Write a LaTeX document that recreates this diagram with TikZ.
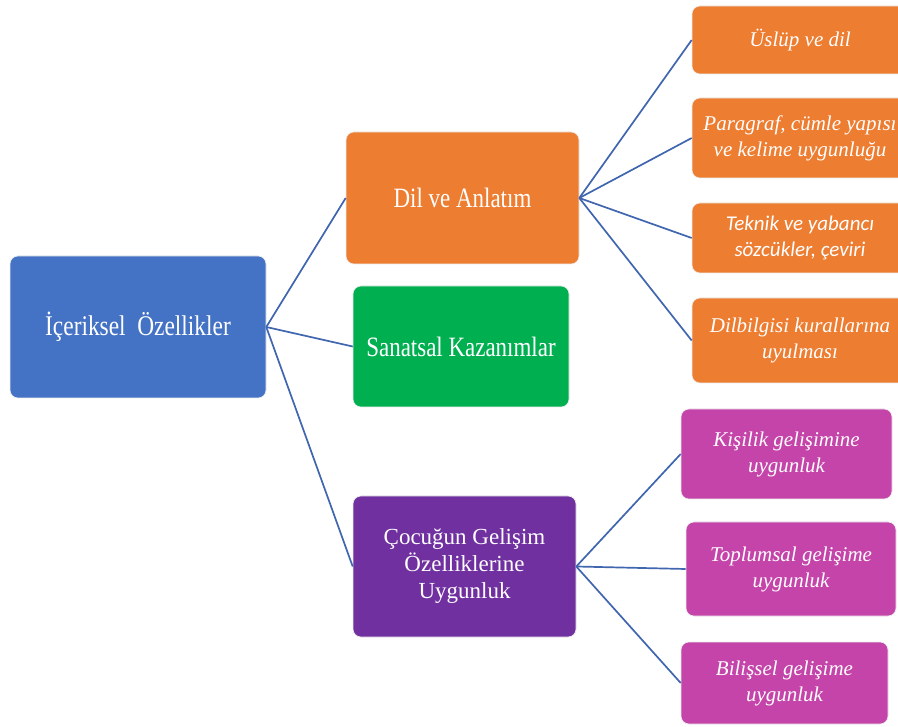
\documentclass[tikz,border=0pt]{standalone}
\usepackage{fontspec}
\setmainfont{Liberation Serif}
\newfontfamily\condserif[FakeStretch=0.82]{Liberation Serif}
\newfontfamily\carlito{Carlito}
\definecolor{cblue}{HTML}{4472C4}
\definecolor{corange}{HTML}{ED7D31}
\definecolor{cgreen}{HTML}{00B050}
\definecolor{cpurple}{HTML}{7030A0}
\definecolor{cmag}{HTML}{C544AA}
\definecolor{cline}{HTML}{4066B0}
\tikzset{
  box/.style={draw=white!85!gray, line width=0.6pt, rounded corners=8pt, inner sep=2pt, align=center, text=white},
  conn/.style={draw=cline, line width=1.7pt},
}
\begin{document}
\begin{tikzpicture}[x=1pt,y=-1pt]
\useasboundingbox[fill=white] (0,0) rectangle (898,727);
\node[box, fill=cblue, minimum width=256pt, minimum height=142pt, font=\condserif\fontsize{28.5}{32}\selectfont] (root) at (138,327) {İçeriksel\ \ Özellikler};
\node[box, fill=corange, minimum width=233pt, minimum height=132pt, font=\condserif\fontsize{28}{32}\selectfont] (dil) at (462.5,198) {Dil ve Anlatım};
\node[box, fill=cgreen, minimum width=216pt, minimum height=121pt, font=\condserif\fontsize{28}{32}\selectfont] (san) at (461,346.5) {Sanatsal Kazanımlar};
\node[box, fill=cpurple, minimum width=223pt, minimum height=141pt, font=\fontsize{23}{27}\selectfont] (coc) at (464.5,566.5) {Çocuğun Gelişim\\Özelliklerine\\Uygunluk};
\node[box, fill=corange, minimum width=216pt, minimum height=68pt, font=\itshape\fontsize{21}{26}\selectfont] (us) at (800,40) {Üslüp ve dil};
\node[box, fill=corange, minimum width=216pt, minimum height=80pt, font=\itshape\fontsize{21}{26}\selectfont] (par) at (800,138) {Paragraf, cümle yapısı\\ve kelime uygunluğu};
\node[box, fill=corange, minimum width=216pt, minimum height=70pt, font=\carlito\itshape\fontsize{21}{26}\selectfont] (tek) at (800,238) {Teknik ve yabancı\\sözcükler, çeviri};
\node[box, fill=corange, minimum width=216pt, minimum height=85pt, font=\itshape\fontsize{21}{26}\selectfont] (dbk) at (800,340.5) {Dilbilgisi kurallarına\\uyulması};
\node[box, fill=cmag, minimum width=211pt, minimum height=90pt, font=\itshape\fontsize{21}{26}\selectfont] (kis) at (786.5,454) {Kişilik gelişimine\\uygunluk};
\node[box, fill=cmag, minimum width=210pt, minimum height=94pt, font=\itshape\fontsize{21}{26}\selectfont] (top) at (791,569) {Toplumsal gelişime\\uygunluk};
\node[box, fill=cmag, minimum width=207pt, minimum height=82pt, font=\itshape\fontsize{21}{26}\selectfont] (bil) at (784.5,683) {Bilişsel gelişime\\uygunluk};
\draw[conn] (root.east) -- (dil.west);
\draw[conn] (root.east) -- (san.west);
\draw[conn] (root.east) -- (coc.west);
\draw[conn] (dil.east) -- (us.west);
\draw[conn] (dil.east) -- (par.west);
\draw[conn] (dil.east) -- (tek.west);
\draw[conn] (dil.east) -- (dbk.west);
\draw[conn] (coc.east) -- (kis.west);
\draw[conn] (coc.east) -- (top.west);
\draw[conn] (coc.east) -- (bil.west);
\end{tikzpicture}
\end{document}
